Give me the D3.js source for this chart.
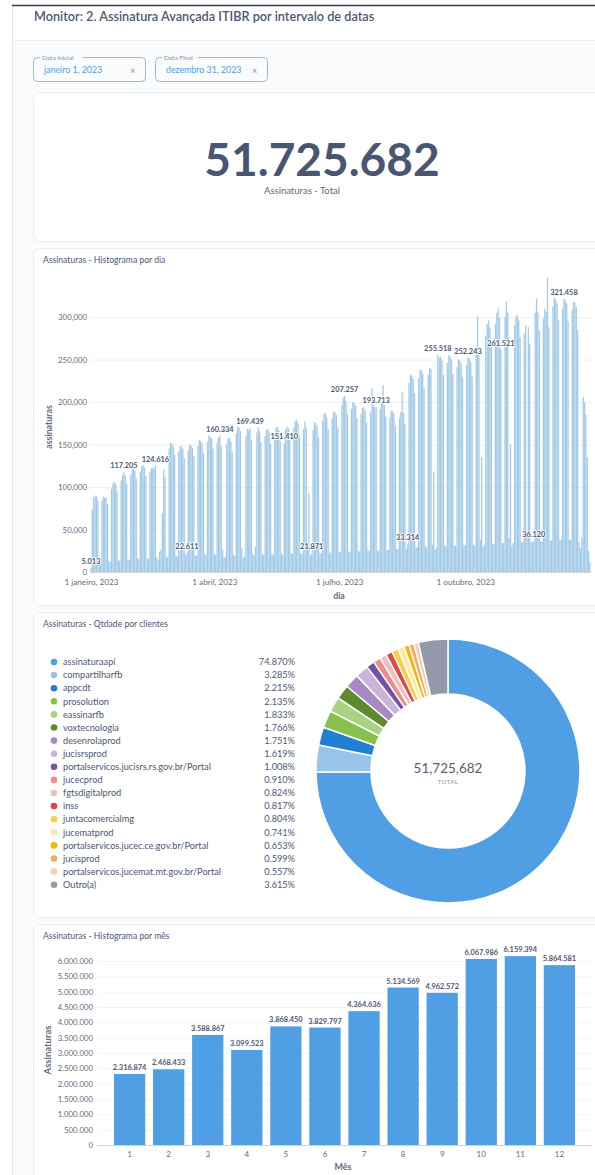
<!DOCTYPE html>
<html>
<head>
<meta charset="utf-8">
<script src="https://cdn.jsdelivr.net/npm/d3@7"></script>
<style>
body { margin: 0; background: #fff; font-family: Lato, "Noto Sans", sans-serif; }
svg { display: block; }
</style>
</head>
<body>
<script>
var totalAssinaturas = 51725682;

// assinaturas por dia, em milhares; uma linha por semana (dom..sáb), começando em 1 jan 2023
var diarioMil = [
    [5.013, 73, 88, 90, 89, 84, 12],
    [11, 84, 89, 88, 87, 80, 13],
    [12, 98, 104, 106, 103, 95, 14],
    [13, 108, 114, 117.205, 113, 104, 15],
    [14, 114, 120, 122, 119, 110, 16],
    [15, 118, 124, 126, 123, 113, 16],
    [15, 118, 122, 123, 121, 124.616, 17],
    [14, 24, 26, 69, 120, 112, 18],
    [17, 145, 152, 151, 148, 138, 19],
    [18, 142, 148, 147, 145, 134, 20],
    [22.611, 143, 150, 149, 146, 136, 20],
    [19, 148, 155, 154, 151, 140, 21],
    [20, 153, 161, 159, 157, 145, 21],
    [20, 152, 158, 160.334, 148, 26, 17],
    [18, 151, 158, 157, 154, 142, 20],
    [19, 163, 171, 170, 166, 28, 17],
    [19, 160, 168, 167, 169.439, 156, 21],
    [19, 30, 164, 170, 166, 153, 21],
    [20, 160, 167, 168, 164, 151, 21],
    [20, 162, 170, 171, 167, 154, 22],
    [20, 151.410, 168, 171, 169, 156, 22],
    [21, 170, 178, 179, 175, 161, 22],
    [21, 168, 177, 170, 30, 93, 19],
    [21.871, 167, 176, 175, 172, 158, 22],
    [22, 178, 186, 187, 182, 168, 23],
    [23, 181, 189, 188, 185, 170, 24],
    [23, 196, 205, 207.257, 201, 186, 24],
    [24, 192, 200, 199, 196, 181, 25],
    [24, 186, 193, 194, 190, 176, 25],
    [25, 188, 216, 196, 194, 193.713, 25],
    [25, 192, 200, 220, 197, 183, 26],
    [26, 182, 190, 189, 186, 172, 27],
    [27, 181, 188, 212, 187, 174, 27],
    [33.314, 222, 232, 231, 227, 210, 29],
    [29, 228, 238, 237, 233, 216, 30],
    [29, 232, 240, 239, 32, 118, 26],
    [29, 255.518, 252, 253, 249, 232, 31],
    [30, 246, 255, 254, 250, 233, 31],
    [31, 241, 250, 249, 245, 229, 32],
    [31, 244, 252.243, 251, 247, 230, 32],
    [31, 258, 300, 262, 38, 135, 29],
    [32, 278, 292, 296, 288, 268, 33],
    [33, 292, 305, 310, 300, 261.521, 34],
    [34, 300, 318, 305, 40, 150, 30],
    [34, 290, 300, 302, 296, 276, 35],
    [35, 280, 290, 42, 288, 268, 35],
    [35, 36.120, 305, 322, 306, 284, 36],
    [36, 298, 310, 306, 346, 288, 37],
    [37, 312, 323, 320, 316, 296, 38],
    [38, 310, 321.458, 320, 316, 295, 38],
    [38, 308, 318, 317, 312, 285, 35],
    [28, 40, 206, 200, 185, 135, 25],
    [12]
];
// dias (índice desde 1 jan) que têm rótulo no gráfico
var diasComRotulo = [0, 24, 47, 70, 94, 116, 141, 161, 185, 208, 231, 253, 275, 299, 323, 345];
var ticksDiaY = [0, 50000, 100000, 150000, 200000, 250000, 300000];
var mesesNome = ['janeiro', 'fevereiro', 'março', 'abril', 'maio', 'junho', 'julho',
    'agosto', 'setembro', 'outubro', 'novembro', 'dezembro'];

var clientes = ['assinaturaapi', 'compartilharfb', 'appcdt', 'prosolution', 'eassinarfb',
    'voxtecnologia', 'desenrolaprod', 'jucisrsprod', 'portalservicos.jucisrs.rs.gov.br/Portal',
    'jucecprod', 'fgtsdigitalprod', 'inss', 'juntacomercialmg', 'jucematprod',
    'portalservicos.jucec.ce.gov.br/Portal', 'jucisprod', 'portalservicos.jucemat.mt.gov.br/Portal', 'Outro(a)'];
var clientesPct = [74.870, 3.285, 2.215, 2.135, 1.833, 1.766, 1.751, 1.619, 1.008,
    0.910, 0.824, 0.817, 0.804, 0.741, 0.653, 0.599, 0.557, 3.615];
var clientesCor = ['#509ee3', '#98c4ea', '#227fd2', '#88bf4d', '#a8d381', '#5d8a2f', '#a989c5',
    '#c9b5dc', '#7650a6', '#ef8c8c', '#f5bcbc', '#e04848', '#f9cf48', '#fce8a8',
    '#f2b705', '#f2a86f', '#f7ceb0', '#949aab'];

var meses = [1, 2, 3, 4, 5, 6, 7, 8, 9, 10, 11, 12];
var porMes = [2316874, 2468433, 3588867, 3099523, 3868450, 3829797,
    4364636, 5134569, 4962572, 6067986, 6159394, 5864581];
var ticksMesY = [0, 500000, 1000000, 1500000, 2000000, 2500000, 3000000,
    3500000, 4000000, 4500000, 5000000, 5500000, 6000000];

// ---- formatos ----
var ptBR = d3.formatLocale({ decimal: ',', thousands: '.', grouping: [3], currency: ['R$', ''] });
var fmtPonto = ptBR.format(',d');
var fmtVirgula = d3.format(',d');

var textoEscuro = '#4c5773';
var textoMedio = '#636a7c';

var svg = d3.select('body').append('svg')
    .attr('width', 595)
    .attr('height', 1175);

// ---- moldura da página ----
svg.append('rect').attr('x', 0).attr('y', 0).attr('width', 595).attr('height', 1175).attr('fill', '#fff');
svg.append('rect').attr('x', 13).attr('y', 41).attr('width', 582).attr('height', 1134).attr('fill', '#f9fbfc');
svg.append('line').attr('x1', 12.5).attr('x2', 12.5).attr('y1', 5).attr('y2', 1175)
    .attr('stroke', '#e2e5e9');
svg.append('line').attr('x1', 12).attr('x2', 595).attr('y1', 5.5).attr('y2', 5.5)
    .attr('stroke', '#3b3f48').attr('stroke-width', 1.5);
svg.append('line').attr('x1', 13).attr('x2', 595).attr('y1', 40.5).attr('y2', 40.5)
    .attr('stroke', '#eceff2');

svg.append('text')
    .attr('x', 34).attr('y', 21)
    .attr('font-size', 12.7).attr('font-weight', 600)
    .attr('fill', textoEscuro)
    .text('Monitor: 2. Assinatura Avançada ITIBR por intervalo de datas');

// filtros de data
function filtro(x, rotulo, valor) {
    var g = svg.append('g').attr('transform', 'translate(' + x + ',57)');
    g.append('rect').attr('x', 0.5).attr('y', 0.5).attr('width', 112).attr('height', 24).attr('rx', 4)
        .attr('fill', '#f9fbfc').attr('stroke', '#8fbbe3');
    g.append('rect').attr('x', 7).attr('y', -2).attr('width', rotulo.length * 3.3 + 3).attr('height', 5)
        .attr('fill', '#f9fbfc');
    g.append('text').attr('x', 9).attr('y', 2.5).attr('font-size', 6.5).attr('fill', '#8b93a5').text(rotulo);
    g.append('text').attr('x', 11).attr('y', 16).attr('font-size', 8.8).attr('fill', '#509ee3').text(valor);
    g.append('text').attr('x', 97).attr('y', 16.5).attr('font-size', 9).attr('fill', '#8b93a5').text('×');
}
filtro(33, 'Data Inicial', 'janeiro 1, 2023');
filtro(155, 'Data Final', 'dezembro 31, 2023');

// cartões
function cartao(y, h, titulo) {
    svg.append('rect').attr('x', 33.5).attr('y', y + 0.5).attr('width', 600).attr('height', h)
        .attr('rx', 6).attr('fill', '#fff').attr('stroke', '#e8ebef');
    if (titulo) {
        svg.append('text').attr('x', 43).attr('y', y + 14.5)
            .attr('font-size', 8.6).attr('fill', textoEscuro).text(titulo);
    }
}
cartao(92, 149);
cartao(248, 357, 'Assinaturas - Histograma por dia');
cartao(612, 305, 'Assinaturas - Qtdade por clientes');
cartao(924, 280, 'Assinaturas - Histograma por mês');

// ---- número total ----
svg.append('text')
    .attr('x', 322).attr('y', 176)
    .attr('text-anchor', 'middle')
    .attr('font-size', 46).attr('font-weight', 700)
    .attr('fill', '#4a5572')
    .text(fmtPonto(totalAssinaturas));
svg.append('text')
    .attr('x', 302).attr('y', 194)
    .attr('text-anchor', 'middle')
    .attr('font-size', 9.5).attr('fill', textoMedio)
    .text('Assinaturas - Total');

// ---- histograma por dia ----
var dias = [];
diarioMil.forEach(function (semana, s) {
    semana.forEach(function (v, d) {
        var i = s * 7 + d;
        dias.push({ i: i, data: new Date(Date.UTC(2023, 0, 1 + i)), valor: Math.round(v * 1000) });
    });
});

var meioDia = 12 * 3600 * 1000;
var xDia = d3.scaleUtc()
    .domain([new Date(Date.UTC(2023, 0, 1) - meioDia), new Date(Date.UTC(2023, 11, 31) + meioDia)])
    .range([90.3, 590.7]);
var yDia = d3.scaleLinear().domain([0, 350000]).range([572, 274.5]);

var gDia = svg.append('g');
gDia.selectAll('line.grade')
    .data(ticksDiaY.slice(1))
    .enter()
    .append('line')
    .attr('class', 'grade')
    .attr('x1', 90).attr('x2', 591)
    .attr('y1', function (d) { return yDia(d) + 0.5; })
    .attr('y2', function (d) { return yDia(d) + 0.5; })
    .attr('stroke', '#eef0f3');

var larguraDia = 1.3;
gDia.selectAll('rect.dia')
    .data(dias)
    .enter()
    .append('rect')
    .attr('class', 'dia')
    .attr('x', function (d) { return xDia(d.data) - larguraDia / 2; })
    .attr('y', function (d) { return yDia(d.valor); })
    .attr('width', larguraDia)
    .attr('height', function (d) { return yDia(0) - yDia(d.valor); })
    .attr('fill', '#a3cbe8');

gDia.append('line').attr('x1', 90).attr('x2', 591).attr('y1', 572.5).attr('y2', 572.5)
    .attr('stroke', '#cfd4da');

var eixoYDia = gDia.append('g')
    .attr('transform', 'translate(87,0)')
    .call(d3.axisLeft(yDia).tickValues(ticksDiaY).tickSize(0).tickPadding(0).tickFormat(fmtVirgula));
eixoYDia.select('.domain').remove();
eixoYDia.selectAll('text').attr('font-size', 7.8).attr('fill', textoMedio).attr('font-family', 'Lato');

var ticksDiaX = [new Date(Date.UTC(2023, 0, 1)), new Date(Date.UTC(2023, 3, 1)),
    new Date(Date.UTC(2023, 6, 1)), new Date(Date.UTC(2023, 9, 1))];
var eixoXDia = gDia.append('g')
    .attr('transform', 'translate(0,573)')
    .call(d3.axisBottom(xDia).tickValues(ticksDiaX).tickSize(0).tickPadding(6)
        .tickFormat(function (d) { return d.getUTCDate() + ' ' + mesesNome[d.getUTCMonth()] + ', ' + d.getUTCFullYear(); }));
eixoXDia.select('.domain').remove();
eixoXDia.selectAll('text').attr('font-size', 8.2).attr('fill', textoMedio).attr('font-family', 'Lato');

gDia.append('text')
    .attr('transform', 'translate(52,427) rotate(-90)')
    .attr('text-anchor', 'middle')
    .attr('font-size', 8.8).attr('font-weight', 700).attr('fill', textoMedio)
    .text('assinaturas');
gDia.append('text')
    .attr('x', 339).attr('y', 599)
    .attr('text-anchor', 'middle')
    .attr('font-size', 8.8).attr('font-weight', 700).attr('fill', textoMedio)
    .text('dia');

gDia.selectAll('text.rotulo')
    .data(dias.filter(function (d) { return diasComRotulo.indexOf(d.i) >= 0; }))
    .enter()
    .append('text')
    .attr('class', 'rotulo')
    .attr('x', function (d) { return xDia(d.data); })
    .attr('y', function (d) { return yDia(d.valor) - 4; })
    .attr('text-anchor', 'middle')
    .attr('font-size', 7.4).attr('font-weight', 700)
    .attr('fill', textoEscuro)
    .attr('stroke', '#fff').attr('stroke-width', 1.6).attr('paint-order', 'stroke')
    .text(function (d) { return fmtPonto(d.valor); });

// ---- rosca por cliente ----
var gLeg = svg.append('g');
var passo = 13.1;
var linhas = gLeg.selectAll('g.leg')
    .data(clientes)
    .enter()
    .append('g')
    .attr('class', 'leg')
    .attr('transform', function (d, i) { return 'translate(0,' + (662 + i * passo) + ')'; });
linhas.append('circle').attr('cx', 54).attr('cy', 0).attr('r', 3.3)
    .attr('fill', function (d, i) { return clientesCor[i]; });
linhas.append('text').attr('x', 63).attr('y', 3.2).attr('font-size', 9.2).attr('fill', textoEscuro)
    .text(function (d) { return d; });
linhas.append('text').attr('x', 295).attr('y', 3.2).attr('text-anchor', 'end')
    .attr('font-size', 9.2).attr('fill', textoEscuro)
    .text(function (d, i) { return clientesPct[i].toFixed(3) + '%'; });

var pie = d3.pie().sort(null).value(function (d) { return d; });
var arc = d3.arc().innerRadius(77).outerRadius(132);
var gRosca = svg.append('g').attr('transform', 'translate(448,771)');
gRosca.selectAll('path')
    .data(pie(clientesPct))
    .enter()
    .append('path')
    .attr('d', arc)
    .attr('fill', function (d, i) { return clientesCor[i]; })
    .attr('stroke', '#fff')
    .attr('stroke-width', 1.5);
gRosca.append('text').attr('x', 0).attr('y', 2).attr('text-anchor', 'middle')
    .attr('font-size', 13.5).attr('fill', '#5a6072')
    .text(fmtVirgula(totalAssinaturas));
gRosca.append('text').attr('x', 0).attr('y', 13).attr('text-anchor', 'middle')
    .attr('font-size', 6.3).attr('fill', '#949aab').attr('letter-spacing', 0.3)
    .text('TOTAL');

// ---- histograma por mês ----
var xMes = d3.scaleBand().domain(meses).range([112, 577]).paddingInner(0.2).paddingOuter(0.05);
var yMes = d3.scaleLinear().domain([0, 6000000]).range([1145, 961]);
var gMes = svg.append('g');

gMes.selectAll('line.grade')
    .data(ticksMesY.slice(1))
    .enter()
    .append('line')
    .attr('class', 'grade')
    .attr('x1', 98).attr('x2', 591)
    .attr('y1', function (d) { return yMes(d) + 0.5; })
    .attr('y2', function (d) { return yMes(d) + 0.5; })
    .attr('stroke', '#f2f4f6');

gMes.selectAll('rect.mes')
    .data(porMes)
    .enter()
    .append('rect')
    .attr('class', 'mes')
    .attr('x', function (d, i) { return xMes(meses[i]); })
    .attr('y', function (d) { return yMes(d); })
    .attr('width', xMes.bandwidth())
    .attr('height', function (d) { return yMes(0) - yMes(d); })
    .attr('fill', '#509ee3');

gMes.selectAll('text.rotulo')
    .data(porMes)
    .enter()
    .append('text')
    .attr('class', 'rotulo')
    .attr('x', function (d, i) { return xMes(meses[i]) + xMes.bandwidth() / 2; })
    .attr('y', function (d) { return yMes(d) - 4; })
    .attr('text-anchor', 'middle')
    .attr('font-size', 7.4).attr('font-weight', 700)
    .attr('fill', textoEscuro)
    .text(function (d) { return fmtPonto(d); });

gMes.append('line').attr('x1', 97).attr('x2', 592).attr('y1', 1145.5).attr('y2', 1145.5)
    .attr('stroke', '#cfd4da');

var eixoYMes = gMes.append('g')
    .attr('transform', 'translate(93,0)')
    .call(d3.axisLeft(yMes).tickValues(ticksMesY).tickSize(0).tickPadding(0).tickFormat(fmtPonto));
eixoYMes.select('.domain').remove();
eixoYMes.selectAll('text').attr('font-size', 7.8).attr('fill', textoMedio).attr('font-family', 'Lato');

var eixoXMes = gMes.append('g')
    .attr('transform', 'translate(0,1146)')
    .call(d3.axisBottom(xMes).tickSize(0).tickPadding(5));
eixoXMes.select('.domain').remove();
eixoXMes.selectAll('text').attr('font-size', 8).attr('fill', textoMedio).attr('font-family', 'Lato');

gMes.append('text')
    .attr('transform', 'translate(51,1050) rotate(-90)')
    .attr('text-anchor', 'middle')
    .attr('font-size', 9.5).attr('font-weight', 700).attr('fill', textoMedio)
    .text('Assinaturas');
gMes.append('text')
    .attr('x', 343).attr('y', 1170)
    .attr('text-anchor', 'middle')
    .attr('font-size', 9).attr('font-weight', 700).attr('fill', textoMedio)
    .text('Mês');
</script>
</body>
</html>
